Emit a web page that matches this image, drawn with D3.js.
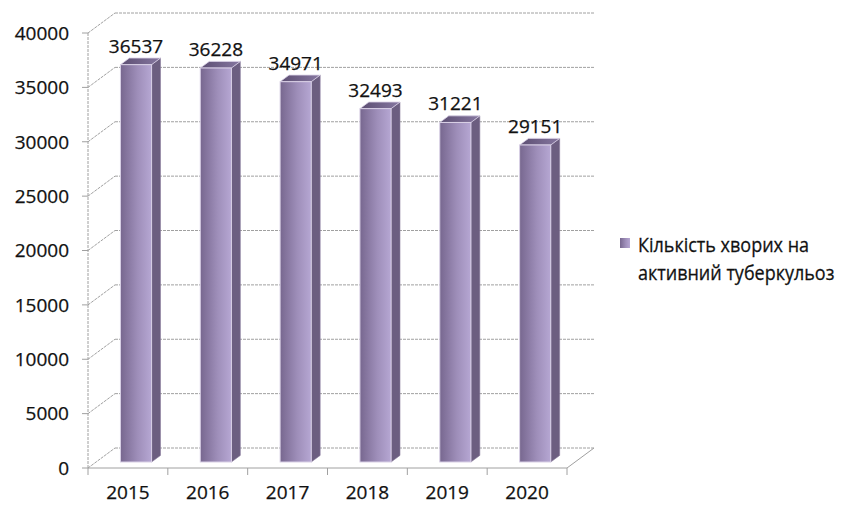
<!DOCTYPE html>
<html>
<head>
<meta charset="utf-8">
<script src="https://cdn.jsdelivr.net/npm/d3@7"></script>
<style>
  html, body { margin: 0; padding: 0; background: #fff; }
  svg { display: block; }
  text { font-family: "Open Sans", "Noto Sans", sans-serif; fill: #111; stroke: #111; stroke-width: 0.25px; }
</style>
</head>
<body>
<svg id="chart" width="844" height="506"></svg>
<script>
// Patients with active tuberculosis, per year
const years = ["2015", "2016", "2017", "2018", "2019", "2020"];
const patients = [36537, 36228, 34971, 32493, 31221, 29151];
const yTicks = [0, 5000, 10000, 15000, 20000, 25000, 30000, 35000, 40000];
const seriesName = ["Кількість хворих на", "активний туберкульоз"];

const svg = d3.select("#chart");
const defs = svg.append("defs");

// Plot front plane and oblique depth offset of the 3-D box
const x0 = 88, x1 = 567, yBase = 468, yTop = 33;
const DX = 27, DY = 20;          // full depth of the box
const d0 = 0.3, d1 = 0.63;        // bar depth span inside the box

const x = d3.scaleBand().domain(years).range([x0, x1])
  .paddingInner(0.61).paddingOuter(0.305);
const y = d3.scaleLinear().domain([0, 40000]).range([yBase, yTop]);

const grid = "#a0a0a0";

// Back wall horizontal gridlines and left wall diagonals
const g = svg.append("g");
yTicks.forEach(t => {
  const yy = y(t);
  g.append("line").attr("x1", x0 + DX).attr("x2", x1 + DX)
    .attr("y1", yy - DY).attr("y2", yy - DY)
    .attr("stroke", grid).attr("stroke-width", 1).attr("stroke-dasharray", "3,1");
  g.append("line").attr("x1", x0).attr("x2", x0 + DX)
    .attr("y1", yy).attr("y2", yy - DY)
    .attr("stroke", grid).attr("stroke-width", 1).attr("stroke-dasharray", "3,1");
  // tick mark on the value axis
  g.append("line").attr("x1", x0 - 6).attr("x2", x0)
    .attr("y1", yy).attr("y2", yy)
    .attr("stroke", grid).attr("stroke-width", 1);
  g.append("text").attr("x", 69).attr("y", yy).attr("dy", "0.36em")
    .attr("text-anchor", "end").attr("font-size", 19).text(t);
});

// Value axis line
g.append("line").attr("x1", x0).attr("x2", x0).attr("y1", y(40000)).attr("y2", yBase)
  .attr("stroke", grid).attr("stroke-width", 1).attr("stroke-dasharray", "3,1");

// Floor outline
g.append("path")
  .attr("d", `M${x0},${yBase}L${x1},${yBase}L${x1 + DX},${yBase - DY}`)
  .attr("fill", "none").attr("stroke", grid).attr("stroke-width", 1);

// Category ticks along the front floor edge
const step = x.step();
d3.range(years.length + 1).forEach(i => {
  const xx = x0 + i * step;
  g.append("line").attr("x1", xx).attr("x2", xx).attr("y1", yBase).attr("y2", yBase + 7)
    .attr("stroke", grid).attr("stroke-width", 1);
});

// Category labels
years.forEach(yr => {
  g.append("text").attr("x", x(yr) + x.bandwidth() / 2).attr("y", 499)
    .attr("text-anchor", "middle").attr("font-size", 19).text(yr);
});

// Gradients for the bar faces
const frontGrad = defs.append("linearGradient").attr("id", "front")
  .attr("x1", "0%").attr("x2", "100%").attr("y1", "0%").attr("y2", "0%");
frontGrad.append("stop").attr("offset", "0%").attr("stop-color", "#77678f");
frontGrad.append("stop").attr("offset", "55%").attr("stop-color", "#9e8eb9");
frontGrad.append("stop").attr("offset", "100%").attr("stop-color", "#b6a7d3");
const topGrad = defs.append("linearGradient").attr("id", "topface")
  .attr("x1", "0%").attr("x2", "100%").attr("y1", "0%").attr("y2", "0%");
topGrad.append("stop").attr("offset", "0%").attr("stop-color", "#5c4e72");
topGrad.append("stop").attr("offset", "100%").attr("stop-color", "#8677a0");

// Bars
const bw = x.bandwidth();
const bx = (d1 - d0) * DX, by = (d1 - d0) * DY;
const bars = svg.append("g");
years.forEach((yr, i) => {
  const v = patients[i];
  const L = x(yr) + d0 * DX;
  const R = L + bw;
  const T = y(v) - d0 * DY;
  const B = y(0) - d0 * DY;
  // side face
  bars.append("path")
    .attr("d", `M${R},${T}L${R + bx},${T - by}L${R + bx},${B - by}L${R},${B}Z`)
    .attr("fill", "#6c5e80").attr("stroke", "#8a7c9e").attr("stroke-width", 0.6);
  // top face
  bars.append("path")
    .attr("d", `M${L},${T}L${L + bx},${T - by}L${R + bx},${T - by}L${R},${T}Z`)
    .attr("fill", "url(#topface)").attr("stroke", "#d9d0e6").attr("stroke-width", 0.8);
  // front face
  bars.append("rect").attr("x", L).attr("y", T).attr("width", bw).attr("height", B - T)
    .attr("fill", "url(#front)").attr("stroke", "#d9d0e6").attr("stroke-width", 1);
  // value label
  bars.append("text").attr("x", L + bw / 2).attr("y", T - 12)
    .attr("text-anchor", "middle").attr("font-size", 19).text(v);
});

// Legend (glyphs stretched vertically for a narrow, tall face)
const lg = svg.append("g");
lg.append("rect").attr("x", 620).attr("y", 238).attr("width", 10).attr("height", 10)
  .attr("fill", "url(#front)");
seriesName.forEach((s, i) => {
  lg.append("g").attr("transform", `translate(638,${252 + i * 28}) scale(1,1.15)`)
    .append("text").attr("x", 0).attr("y", 0)
    .attr("font-size", 18)
    .text(s);
});
</script>
</body>
</html>
